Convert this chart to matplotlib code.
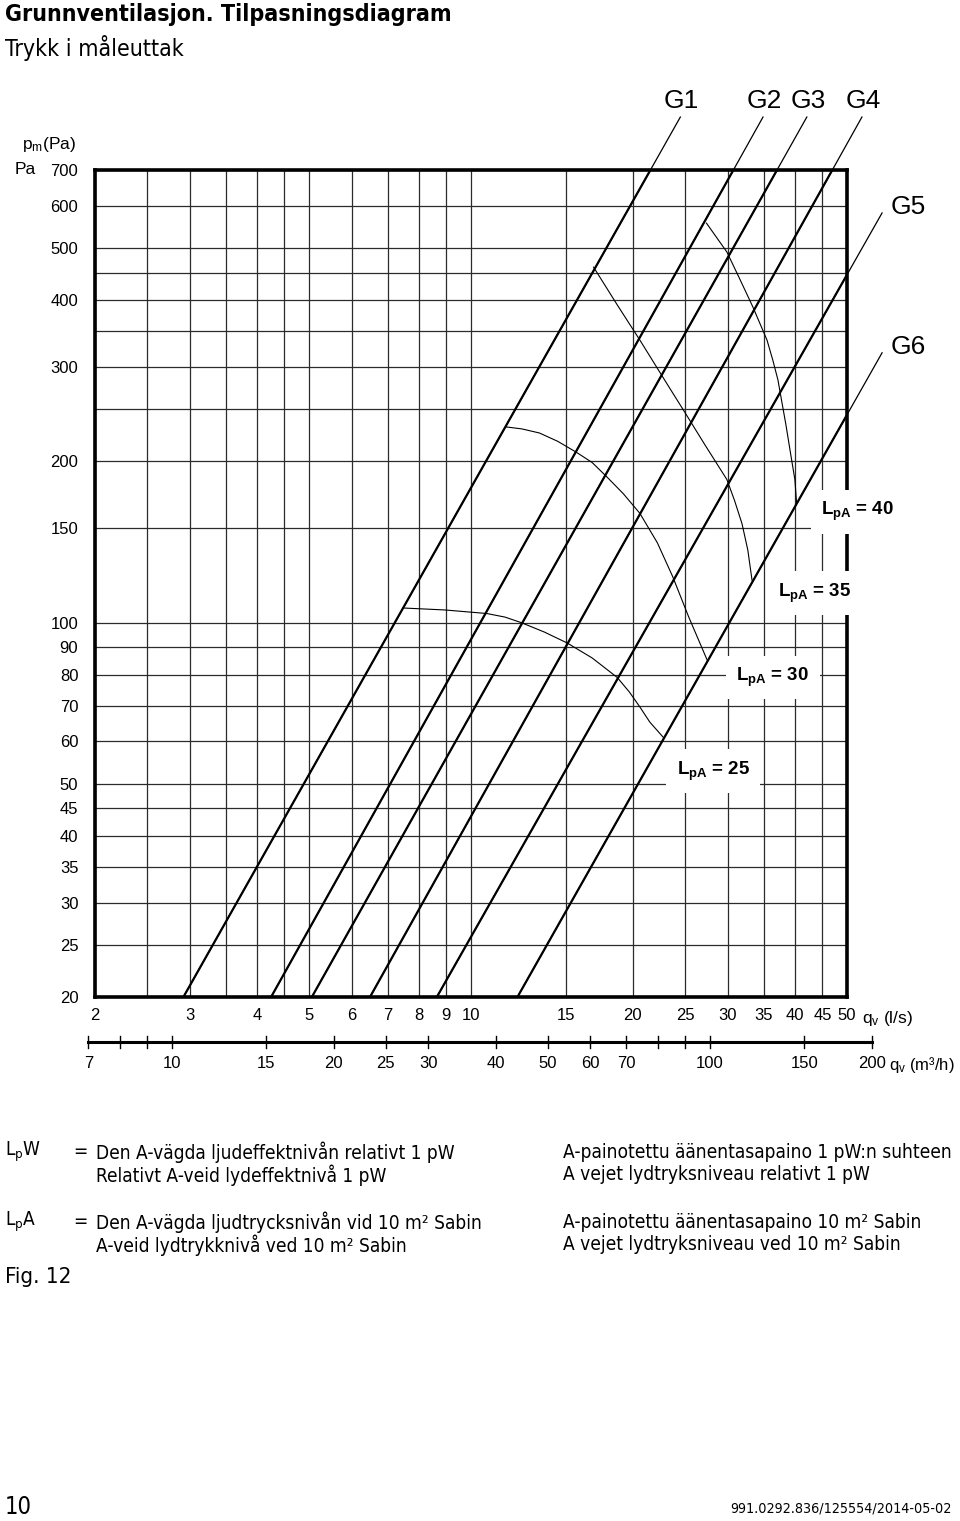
import matplotlib.pyplot as plt
from matplotlib import transforms

plt.rcParams['font.family'] = ['Liberation Sans', 'DejaVu Sans']
plt.rcParams['mathtext.fontset'] = 'custom'
plt.rcParams['mathtext.rm'] = 'Liberation Sans'
plt.rcParams['mathtext.bf'] = 'Liberation Sans:bold'
plt.rcParams['mathtext.it'] = 'Liberation Sans:italic'

COND = dict(family='DejaVu Sans', fontstretch='condensed')

# grid lines and tick labels
grid_q = [2, 2.5, 3, 3.5, 4, 4.5, 5, 6, 7, 8, 9, 10, 15, 20, 25, 30, 35, 40, 45, 50]
grid_p = [20, 25, 30, 35, 40, 45, 50, 60, 70, 80, 90, 100, 150, 200, 250, 300,
          350, 400, 450, 500, 600, 700]
q_ticks = [2, 3, 4, 5, 6, 7, 8, 9, 10, 15, 20, 25, 30, 35, 40, 45, 50]
p_ticks = [20, 25, 30, 35, 40, 45, 50, 60, 70, 80, 90, 100, 150, 200, 300, 400,
           500, 600, 700]
m3h_ticks = [7, 8, 9, 10, 15, 20, 25, 30, 40, 50, 60, 70, 80, 90, 100, 150, 200]
m3h_labels = [7, 10, 15, 20, 25, 30, 40, 50, 60, 70, 100, 150, 200]

# G lines: start at 20 Pa, end at the leader tip
g_names = ['G1', 'G2', 'G3', 'G4', 'G5', 'G6']
g_q0 = [2.92, 4.25, 5.06, 6.49, 8.64, 12.2]
g_p0 = [20, 20, 20, 20, 20, 20]
g_q1 = [24.5, 34.9, 42.1, 53.3, 58.1, 58.1]
g_p1 = [879, 879, 879, 879, 582, 319]

# L_pA curves
lpa_levels = [25, 30, 35, 40]
lpa25_q = [7.47, 8.94, 10.7, 11.57, 12.4, 13.7, 15.1, 16.8, 18.7, 19.7, 20.6, 21.5, 22.8]
lpa25_p = [106.5, 105.6, 104, 102.4, 100, 96, 91.6, 85.9, 79, 74.2, 69.6, 65.2, 61]
lpa30_q = [11.6, 12.43, 13.4, 14.5, 15.7, 16.8, 17.9, 19.2, 20.6, 22.2, 23.7, 25.4, 27.5]
lpa30_p = [232, 230, 226, 218, 208, 199, 187, 174, 160, 141, 122, 102.4, 85]
lpa35_q = [16.9, 18.7, 20.6, 23.2, 25.1, 27.2, 29.9, 30.9, 31.9, 32.7, 33.3]
lpa35_p = [461, 392, 337, 278, 245, 215, 185, 169, 153, 136.7, 120]
lpa40_q = [27.4, 29.9, 31.6, 33.4, 35.5, 36.4, 37.2, 38.5, 39.3, 40.0, 40.3]
lpa40_p = [557, 492, 438, 389, 337, 309, 284, 234, 206, 185, 167]
lpa_curves = [(lpa25_q, lpa25_p), (lpa30_q, lpa30_p), (lpa35_q, lpa35_p), (lpa40_q, lpa40_p)]

W, H = 960, 1521


def fx(px):
    return px / W


def fy(py):
    return 1 - py / H


fig = plt.figure(figsize=(W / 100, H / 100), dpi=100)
fig.patch.set_facecolor('white')

ax = fig.add_axes([fx(95), fy(997), (847 - 95) / W, (997 - 170) / H])
ax.set_xscale('log')
ax.set_yscale('log')
ax.set_xlim(2, 50)
ax.set_ylim(20, 700)

for q in grid_q:
    ax.axvline(q, color='#2b2b2b', lw=0.9, zorder=1)
for p in grid_p:
    ax.axhline(p, color='#2b2b2b', lw=0.9, zorder=1)

ax.set_xticks(q_ticks, labels=[str(v) for v in q_ticks])
ax.set_yticks(p_ticks, labels=[str(v) for v in p_ticks])
ax.minorticks_off()
ax.tick_params(axis='both', length=0, labelsize=12)
ax.tick_params(axis='x', pad=8)
ax.tick_params(axis='y', pad=12)

for s in ax.spines.values():
    s.set_linewidth(2.6)
    s.set_zorder(4)

# G lines: thick inside the box, thin leader outside
for i, name in enumerate(g_names):
    xs = [g_q0[i], g_q1[i]]
    ys = [g_p0[i], g_p1[i]]
    ax.plot(xs, ys, color='black', lw=0.9, clip_on=False, zorder=3)
    ax.plot(xs, ys, color='black', lw=1.6, zorder=3)
    if i < 4:
        ax.annotate(name, (g_q1[i], g_p1[i]), xytext=(1, 3), textcoords='offset points',
                    ha='center', va='bottom', fontsize=19, annotation_clip=False)
    else:
        ax.annotate(name, (g_q1[i], g_p1[i]), xytext=(6, 4), textcoords='offset points',
                    ha='left', va='center', fontsize=19, annotation_clip=False)

# L_pA curves and labels
lab_q = [28.2, 36.4, 43.6, 52.4]
lab_p = [52.8, 79, 113.6, 161]
for (cq, cp), lvl, lq, lp in zip(lpa_curves, lpa_levels, lab_q, lab_p):
    ax.plot(cq, cp, color='black', lw=0.8, zorder=3)
    ax.text(lq, lp, r'$\mathbf{L_{pA}}$ = %d' % lvl, ha='center', va='center',
            fontsize=13.5, fontweight='bold', zorder=6, clip_on=False,
            bbox=dict(boxstyle='square,pad=0.55', fc='white', ec='none'))

# axis captions
fig.text(fx(22), fy(145), r'p$_\mathregular{m}$(Pa)', fontsize=12.5, va='center', ha='left')
fig.text(fx(15), fy(170), 'Pa', fontsize=12.5, va='center', ha='left')
fig.text(fx(862), fy(1019), r'q$_\mathregular{v}$ (l/s)', fontsize=12.5, va='center', ha='left')

# second scale in m3/h
tr = transforms.blended_transform_factory(ax.transData, ax.transAxes)
y_line = (997 - 1042) / 827
ax.plot([m3h_ticks[0] / 3.6, m3h_ticks[-1] / 3.6], [y_line, y_line], color='black',
        lw=2.2, transform=tr, clip_on=False)
for m in m3h_ticks:
    ax.plot([m / 3.6, m / 3.6], [y_line + 6 / 827, y_line - 6 / 827], color='black',
            lw=1.0, transform=tr, clip_on=False)
for m in m3h_labels:
    ax.text(m / 3.6, (997 - 1064) / 827, str(m), transform=tr, ha='center', va='center',
            fontsize=12)
fig.text(fx(889), fy(1065), r'q$_\mathregular{v}$ (m³/h)', fontsize=12, va='center', ha='left')

# title
fig.text(fx(5), fy(15), 'Grunnventilasjon. Tilpasningsdiagram', fontweight='bold',
         fontsize=16.7, va='center', ha='left', **COND)
fig.text(fx(5), fy(48), 'Trykk i måleuttak', fontsize=16.6, va='center', ha='left', **COND)

# definitions
fs = 13.7
rows = [
    (1152, r'L$_\mathregular{p}$W', 'Den A-vägda ljudeffektnivån relativt 1 pW',
     'A-painotettu äänentasapaino 1 pW:n suhteen'),
    (1175, None, 'Relativt A-veid lydeffektnivå 1 pW',
     'A vejet lydtryksniveau relativt 1 pW'),
    (1222, r'L$_\mathregular{p}$A', 'Den A-vägda ljudtrycksnivån vid 10 m² Sabin',
     'A-painotettu äänentasapaino 10 m² Sabin'),
    (1245, None, 'A-veid lydtrykknivå ved 10 m² Sabin',
     'A vejet lydtryksniveau ved 10 m² Sabin'),
]
for y, sym, c1, c2 in rows:
    if sym is not None:
        fig.text(fx(5), fy(y), sym, fontsize=fs, va='center', ha='left', **COND)
        fig.text(fx(73), fy(y), '=', fontsize=fs, va='center', ha='left', **COND)
    fig.text(fx(96), fy(y), c1, fontsize=fs, va='center', ha='left', **COND)
    fig.text(fx(563), fy(y), c2, fontsize=fs, va='center', ha='left', **COND)

fig.text(fx(5), fy(1277), 'Fig. 12', fontsize=16, va='center', ha='left', **COND)

# footer
fig.text(fx(5), fy(1507), '10', fontsize=17, va='center', ha='left', **COND)
fig.text(fx(952), fy(1509), '991.0292.836/125554/2014-05-02', fontsize=10.3,
         va='center', ha='right', **COND)

fig.savefig('out.png', dpi=100, facecolor='white')
